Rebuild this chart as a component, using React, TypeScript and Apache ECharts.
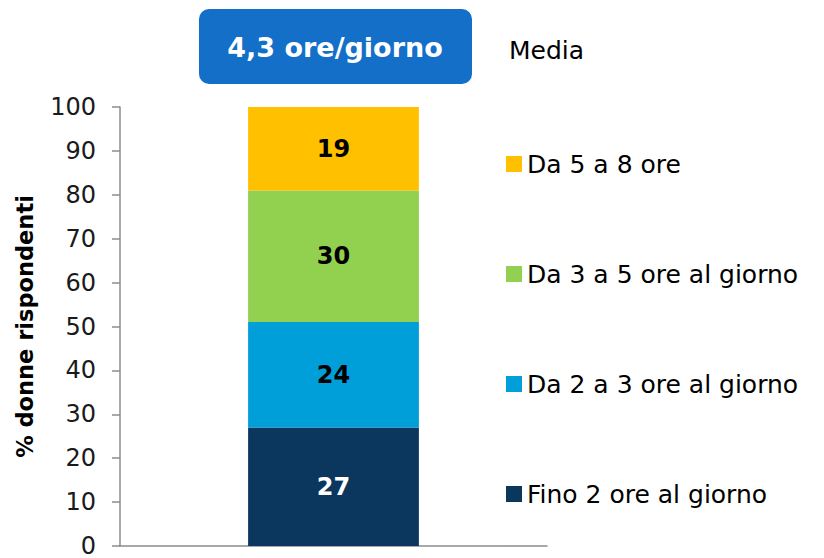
import React, { useEffect, useRef } from "react";
import * as echarts from "echarts";

const categories = ["Media"];
const seriesNames = ["Fino 2 ore al giorno", "Da 2 a 3 ore al giorno", "Da 3 a 5 ore al giorno", "Da 5 a 8 ore"];
const fino2 = [27];
const da2a3 = [24];
const da3a5 = [30];
const da5a8 = [19];
const colors = ["#0B375F", "#009FDA", "#92D050", "#FFC000"];
const labelColors = ["#FFFFFF", "#000000", "#000000", "#000000"];
const legendOrder = ["Da 5 a 8 ore", "Da 3 a 5 ore al giorno", "Da 2 a 3 ore al giorno", "Fino 2 ore al giorno"];
const mediaText = "4,3 ore/giorno";
const mediaLabel = "Media";
const yAxisName = "% donne rispondenti";

const FONT = "DejaVu Sans";

export default function App() {
  const ref = useRef<HTMLDivElement>(null);
  useEffect(() => {
    if (!ref.current) return;
    const chart = echarts.init(ref.current, undefined, { renderer: "svg" });
    const values = [fino2, da2a3, da3a5, da5a8];
    chart.setOption({
      animation: false,
      textStyle: { fontFamily: FONT },
      grid: { left: 120, right: 277, top: 107, bottom: 9, containLabel: false },
      xAxis: {
        type: "category",
        data: categories,
        axisLine: { show: true, lineStyle: { color: "#8C8C8C", width: 1.5 } },
        axisTick: { show: false },
        axisLabel: { show: false },
      },
      yAxis: {
        type: "value",
        min: 0,
        max: 100,
        interval: 10,
        name: yAxisName,
        nameLocation: "middle",
        nameGap: 84,
        nameRotate: 90,
        nameTextStyle: { fontFamily: FONT, fontSize: 22.5, fontWeight: "bold", color: "#000" },
        axisLine: { show: true, lineStyle: { color: "#8C8C8C", width: 1.5 } },
        axisTick: { show: true, inside: false, length: 8, lineStyle: { color: "#8C8C8C", width: 1.5 } },
        axisLabel: { margin: 24, fontFamily: FONT, fontSize: 24, color: "#1a1a1a" },
        splitLine: { show: false },
      },
      legend: {
        orient: "vertical",
        left: 501,
        top: 146,
        data: legendOrder,
        itemWidth: 16,
        itemHeight: 16,
        itemGap: 84,
        icon: "rect",
        textStyle: { fontFamily: FONT, fontSize: 25, lineHeight: 26, color: "#000" },
        selectedMode: false,
      },
      series: seriesNames.map((name, i) => ({
        name,
        type: "bar",
        stack: "total",
        data: values[i],
        barWidth: "40%",
        itemStyle: { color: colors[i] },
        label: {
          show: true,
          position: "inside",
          fontFamily: FONT,
          fontSize: 24,
          fontWeight: "bold",
          color: labelColors[i],
        },
      })),
      graphic: [
        {
          type: "rect",
          left: 199,
          top: 9,
          shape: { width: 273, height: 75, r: 10 },
          style: { fill: "#136FC8" },
        },
        {
          type: "text",
          x: 335,
          y: 47,
          style: {
            text: mediaText,
            fill: "#fff",
            font: `bold 27px "${FONT}"`,
            align: "center",
            verticalAlign: "middle",
          },
        },
        {
          type: "text",
          x: 509,
          y: 50,
          style: {
            text: mediaLabel,
            fill: "#000",
            font: `25px "${FONT}"`,
            align: "left",
            verticalAlign: "middle",
          },
        },
      ],
    });
    return () => chart.dispose();
  }, []);
  return <div ref={ref} style={{ width: 824, height: 558, position: "absolute", left: 0, top: 0 }} />;
}
